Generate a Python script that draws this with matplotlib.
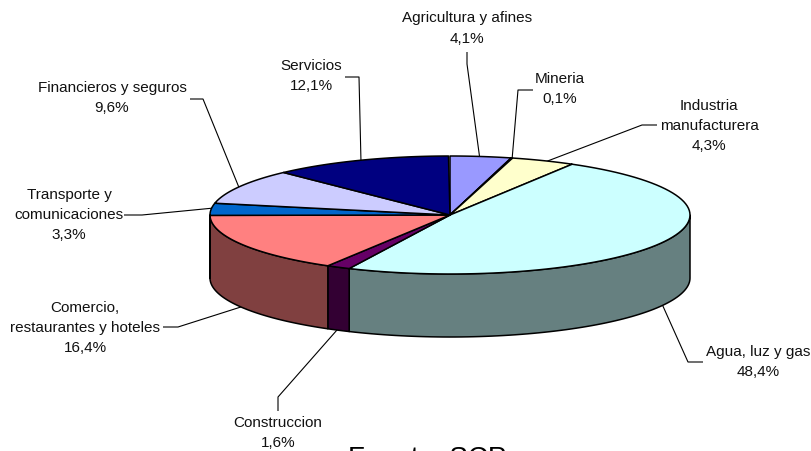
import numpy as np
import matplotlib
matplotlib.use("Agg")
import matplotlib.pyplot as plt

categorias = ['Agricultura y afines', 'Mineria', 'Industria\nmanufacturera', 'Agua, luz y gas',
              'Construccion', 'Comercio,\nrestaurantes y hoteles', 'Transporte y\ncomunicaciones',
              'Financieros y seguros', 'Servicios']
valores = [4.1, 0.1, 4.3, 48.4, 1.6, 16.4, 3.3, 9.6, 12.1]
textos_pct = ['4,1%', '0,1%', '4,3%', '48,4%', '1,6%', '16,4%', '3,3%', '9,6%', '12,1%']
cores = ['#9999FF', '#FFFFCC', '#FFFFCC', '#CCFFFF', '#660066', '#FF8080', '#0066CC', '#CCCCFF', '#000080']
cores_lado = ['#4D4D80', '#808066', '#808066', '#668080', '#330033', '#804040', '#003366', '#666680', '#000040']

plt.rcParams['font.family'] = ['Liberation Sans', 'DejaVu Sans']

# geometria da pizza em pixels
cx, cy = 450, 215
rx, ry = 240, 59
altura = 63


def ponto(ang):
    # angulo medido a partir do topo, sentido horario
    return cx + rx * np.sin(ang), cy - ry * np.cos(ang)


fig = plt.figure(figsize=(8.12, 4.51), dpi=100)
ax = fig.add_axes([0, 0, 1, 1])
ax.set_xlim(0, 812)
ax.set_ylim(451, 0)
ax.axis('off')

limites = np.radians(np.concatenate([[0], np.cumsum(valores)]) * 3.6)

# leader lines ficam atras da pizza
linhas = [
    [(467, 52), (467, 64), (480, 160)],
    [(533, 90), (518, 90), (512, 160)],
    [(657, 125), (642, 125), (545, 162)],
    [(703, 362), (688, 362), (662, 304)],
    [(278, 411), (278, 397), (337, 330)],
    [(163, 327), (178, 327), (244, 306)],
    [(124, 215), (142, 215), (214, 208)],
    [(190, 99), (203, 99), (240, 190)],
    [(345, 77), (359, 77), (361, 162)],
]
for ln in linhas:
    xs, ys = zip(*ln)
    ax.plot(xs, ys, color='black', lw=0.8, solid_capstyle='butt', zorder=1)

# paredes laterais (so a parte da frente aparece)
for a0, a1, cor in zip(limites[:-1], limites[1:], cores_lado):
    ini, fim = max(a0, np.pi / 2), min(a1, 3 * np.pi / 2)
    if fim <= ini:
        continue
    t = np.linspace(ini, fim, 80)
    x, y = ponto(t)
    ax.fill(np.r_[x, x[::-1]], np.r_[y, y[::-1] + altura], facecolor=cor,
            edgecolor='black', lw=1.1, joinstyle='round', zorder=2)

# topo
for a0, a1, cor in zip(limites[:-1], limites[1:], cores):
    t = np.linspace(a0, a1, 80)
    x, y = ponto(t)
    ax.fill(np.r_[cx, x], np.r_[cy, y], facecolor=cor, edgecolor='black',
            lw=1.1, joinstyle='round', zorder=3)

pos_texto = [(467, 28.5), (560, 89), (709, 126), (758, 362), (278, 433),
             (85, 328), (69, 215), (112, 98), (311, 76)]
for nome, pct, (tx, ty) in zip(categorias, textos_pct, pos_texto):
    ax.text(tx, ty, nome + '\n' + pct, ha='center', va='center', fontsize=11,
            color='#111111', linespacing=1.58, zorder=5)

ax.text(427.5, 445.5, 'Fuente: SCP', ha='center', va='top', fontsize=20, color='black', clip_on=False)

fig.savefig('out.png', dpi=100)
